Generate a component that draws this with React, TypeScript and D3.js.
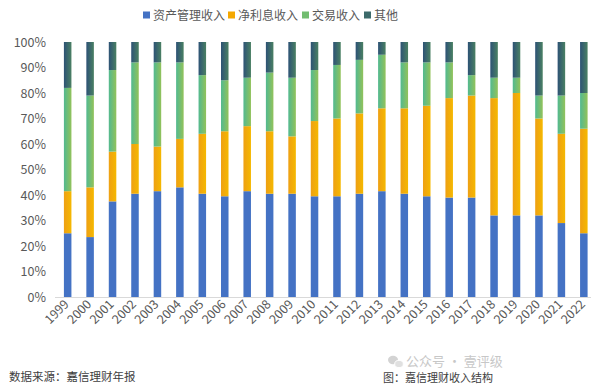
import { useRef, useEffect } from "react";
import * as d3 from "d3";

const years = [
  "1999", "2000", "2001", "2002", "2003", "2004", "2005", "2006",
  "2007", "2008", "2009", "2010", "2011", "2012", "2013", "2014",
  "2015", "2016", "2017", "2018", "2019", "2020", "2021", "2022",
];

const seriesNames = ["资产管理收入", "净利息收入", "交易收入", "其他"];

// percentage share of each income type
const assetMgmt = [25, 23.5, 37.5, 40.5, 41.5, 43, 40.5, 39.5, 41.5, 40.5, 40.5, 39.5, 39.5, 40.5, 41.5, 40.5, 39.5, 39, 39, 32, 32, 32, 29, 25];
const netInterest = [16.5, 19.5, 19.5, 19.5, 17.5, 19, 23.5, 25.5, 25.5, 24.5, 22.5, 29.5, 30.5, 31.5, 32.5, 33.5, 35.5, 39, 40, 46, 48, 38, 35, 41];
const trading = [40.5, 36, 32, 32, 33, 30, 23, 20, 19, 23, 23, 20, 21, 21, 21, 18, 17, 14, 8, 8, 6, 9, 15, 14];
const other = [18, 21, 11, 8, 8, 8, 13, 15, 14, 12, 14, 11, 9, 7, 5, 8, 8, 8, 13, 14, 14, 21, 21, 20];

const yTicks = [0, 10, 20, 30, 40, 50, 60, 70, 80, 90, 100];

const fills = [
  ["#4472c4", "#4472c4"],
  ["#eea014", "#f5b800"],
  ["#52b990", "#92c25a"],
  ["#2d5275", "#4a8063"],
];
const legendFills = ["#4472c4", "#f5a800", "#72bd70", "#3c6a6a"];

export default function App() {
  const ref = useRef<SVGSVGElement>(null);

  useEffect(() => {
    const w = 591;
    const svg = d3.select(ref.current);
    svg.selectAll("*").remove();
    const font = "'Noto Sans CJK SC', 'Noto Sans', sans-serif";

    const defs = svg.append("defs");
    fills.forEach((f, i) => {
      const g = defs
        .append("linearGradient")
        .attr("id", "g" + i)
        .attr("x1", "0")
        .attr("x2", "1")
        .attr("y1", "0")
        .attr("y2", "0");
      g.append("stop").attr("offset", "0").attr("stop-color", f[0]);
      g.append("stop").attr("offset", "1").attr("stop-color", f[1]);
    });

    const table = years.map((y, i) => ({
      year: y,
      s0: assetMgmt[i],
      s1: netInterest[i],
      s2: trading[i],
      s3: other[i],
    }));
    const stack = d3.stack<any>().keys(["s0", "s1", "s2", "s3"]).offset(d3.stackOffsetExpand);
    const layers = stack(table);

    const x = d3.scaleBand().domain(years).range([56.5, 595]).paddingInner(0.665).paddingOuter(0.33);
    const y = d3.scaleLinear().domain([0, 1]).range([297, 42]);

    // bars
    svg
      .selectAll("g.layer")
      .data(layers)
      .enter()
      .append("g")
      .attr("class", "layer")
      .attr("fill", (d, i) => "url(#g" + i + ")")
      .selectAll("rect")
      .data((d) => d)
      .enter()
      .append("rect")
      .attr("x", (d: any) => x(d.data.year)!)
      .attr("width", x.bandwidth())
      .attr("y", (d) => y(d[1]))
      .attr("height", (d) => y(d[0]) - y(d[1]));

    // baseline
    svg
      .append("line")
      .attr("x1", 55)
      .attr("x2", w)
      .attr("y1", 297.5)
      .attr("y2", 297.5)
      .attr("stroke", "#d9d9d9");

    // y tick labels
    svg
      .selectAll("text.ytick")
      .data(yTicks)
      .enter()
      .append("text")
      .attr("class", "ytick")
      .attr("x", 46)
      .attr("y", (d) => y(d / 100) + 4.5)
      .attr("text-anchor", "end")
      .attr("font-family", font)
      .attr("font-size", "12.5px")
      .attr("fill", "#595959")
      .text((d) => d + "%");

    // x tick labels
    svg
      .selectAll("text.xtick")
      .data(years)
      .enter()
      .append("text")
      .attr("class", "xtick")
      .attr("transform", (d) => `translate(${x(d)! + x.bandwidth() / 2 + 2},${305}) rotate(-45)`)
      .attr("text-anchor", "end")
      .attr("font-family", font)
      .attr("font-size", "12.5px")
      .attr("fill", "#595959")
      .text((d) => d);

    // legend
    const legendX = [143, 228, 302, 364];
    seriesNames.forEach((name, i) => {
      svg
        .append("rect")
        .attr("x", legendX[i])
        .attr("y", 11.5)
        .attr("width", 7)
        .attr("height", 7)
        .attr("fill", legendFills[i]);
      svg
        .append("text")
        .attr("x", legendX[i] + 10)
        .attr("y", 19.5)
        .attr("font-family", font)
        .attr("font-size", "12px")
        .attr("fill", "#595959")
        .text(name);
    });

    // footer
    svg
      .append("text")
      .attr("x", 9)
      .attr("y", 381)
      .attr("font-family", "'Noto Sans CJK SC', sans-serif")
      .attr("font-size", "11.5px")
      .attr("fill", "#404040")
      .text("数据来源：嘉信理财年报");
    svg
      .append("text")
      .attr("x", 383)
      .attr("y", 382)
      .attr("font-family", "'Noto Sans CJK SC', sans-serif")
      .attr("font-size", "11px")
      .attr("fill", "#404040")
      .text("图：嘉信理财收入结构");

    // watermark
    const wm = svg.append("g").attr("opacity", 0.55);
    wm.append("ellipse").attr("cx", 393).attr("cy", 360).attr("rx", 5).attr("ry", 4.2).attr("fill", "#b0b0b0");
    wm.append("ellipse").attr("cx", 399).attr("cy", 364).attr("rx", 4.3).attr("ry", 3.6).attr("fill", "#c8c8c8").attr("stroke", "#fff").attr("stroke-width", 1);
    wm.append("text")
      .attr("x", 406)
      .attr("y", 366)
      .attr("font-family", "'Noto Sans CJK SC', sans-serif")
      .attr("font-size", "13px")
      .attr("fill", "#9a9a9a")
      .text("公众号 · 壹评级");
  }, []);

  return (
    <svg
      ref={ref}
      width={591}
      height={388}
      style={{ position: "absolute", left: 0, top: 0, background: "#fff" }}
    />
  );
}
